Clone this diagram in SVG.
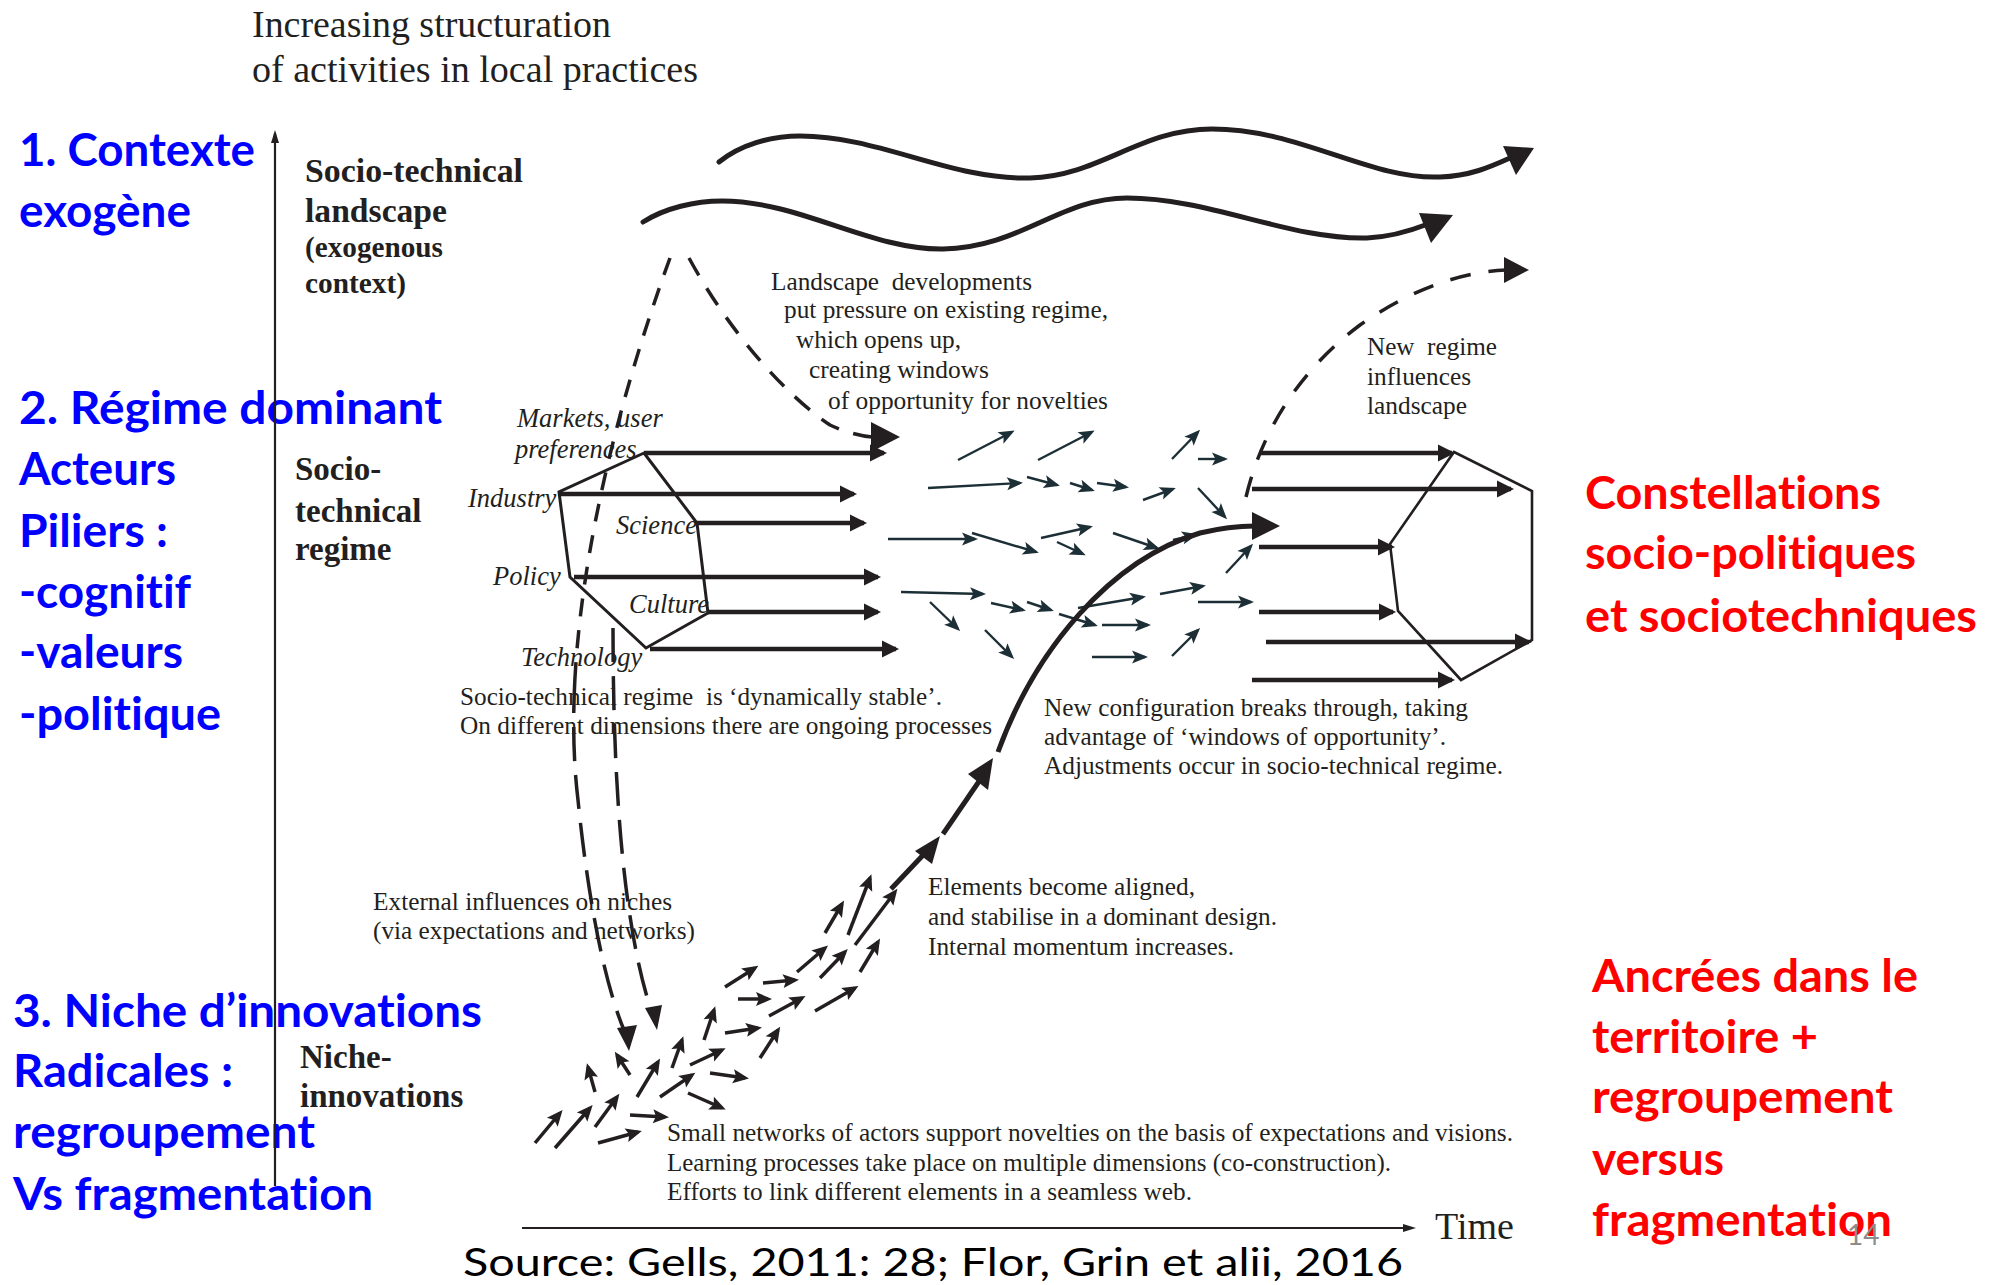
<svg xmlns="http://www.w3.org/2000/svg" width="1995" height="1285" viewBox="0 0 1995 1285">
<defs>
<style>
text{font-variant-ligatures:none}
.serif{font-family:"Liberation Serif","Times New Roman",serif;fill:#231f20}
.b{font-weight:bold}
.i{font-style:italic;font-size:26.5px}
.t25{font-size:25px}
.cal{font-family:Lato,"Open Sans","Liberation Sans",sans-serif}
.blue{fill:#0000ff;font-weight:bold;font-size:45px}
.red{fill:#ff0000;font-weight:bold;font-size:45px}
.hx{fill:none;stroke:#231f20;stroke-width:3;stroke-linejoin:miter}
.ar{stroke:#231f20;stroke-width:4.5;fill:none;marker-end:url(#hb)}
.tl{stroke:#1d2f36;stroke-width:2.4;fill:none;marker-end:url(#ht)}
.nk{stroke:#231f20;stroke-width:3.5;fill:none;marker-end:url(#hn)}
.wave{fill:none;stroke:#231f20;stroke-width:5;stroke-linecap:round}
.thick{fill:none;stroke:#231f20;stroke-width:5}
.dsh{fill:none;stroke:#231f20;stroke-width:3.5}
.head{fill:#231f20}
.axis{stroke:#231f20;stroke-width:2.2;fill:none;marker-end:url(#ha)}
</style>
<marker id="hb" viewBox="-20 -10 24 20" markerWidth="24" markerHeight="20" refX="0" refY="0" orient="auto" markerUnits="userSpaceOnUse" overflow="visible"><path d="M3,0 L-14,-8.5 L-14,8.5 Z" fill="#231f20"/></marker>
<marker id="ht" viewBox="-20 -10 24 20" markerWidth="24" markerHeight="20" refX="0" refY="0" orient="auto" markerUnits="userSpaceOnUse" overflow="visible"><path d="M3,0 L-13,-6.5 L-9.5,0 L-13,6.5 Z" fill="#1d2f36"/></marker>
<marker id="hn" viewBox="-20 -10 24 20" markerWidth="24" markerHeight="20" refX="0" refY="0" orient="auto" markerUnits="userSpaceOnUse" overflow="visible"><path d="M4,0 L-12,-7 L-9,0 L-12,7 Z" fill="#231f20"/></marker>
<marker id="ha" viewBox="-14 -6 18 12" markerWidth="18" markerHeight="12" refX="0" refY="0" orient="auto" markerUnits="userSpaceOnUse" overflow="visible"><path d="M3,0 L-10,-4 L-10,4 Z" fill="#231f20"/></marker>
</defs>
<rect width="1995" height="1285" fill="#ffffff"/>

<!-- Left annotations (blue) -->
<g id="note-contexte" class="cal blue">
<text x="19" y="166" textLength="236" lengthAdjust="spacingAndGlyphs">1. Contexte</text>
<text x="19" y="227" textLength="172" lengthAdjust="spacingAndGlyphs">exogène</text>
</g>
<g id="note-regime" class="cal blue">
<text x="19" y="424" textLength="423" lengthAdjust="spacingAndGlyphs">2. Régime dominant</text>
<text x="19" y="485" textLength="157" lengthAdjust="spacingAndGlyphs">Acteurs</text>
<text x="19" y="547" textLength="149" lengthAdjust="spacingAndGlyphs">Piliers :</text>
<text x="19" y="608" textLength="172" lengthAdjust="spacingAndGlyphs">-cognitif</text>
<text x="19" y="668" textLength="164" lengthAdjust="spacingAndGlyphs">-valeurs</text>
<text x="19" y="730" textLength="202" lengthAdjust="spacingAndGlyphs">-politique</text>
</g>
<g id="note-niche" class="cal blue">
<text x="13" y="1027" textLength="469" lengthAdjust="spacingAndGlyphs">3. Niche d’innovations</text>
<text x="13" y="1087" textLength="220" lengthAdjust="spacingAndGlyphs">Radicales :</text>
<text x="13" y="1148" textLength="302" lengthAdjust="spacingAndGlyphs">regroupement</text>
<text x="13" y="1210" textLength="360" lengthAdjust="spacingAndGlyphs">Vs fragmentation</text>
</g>

<!-- Right annotations (red) -->
<g id="note-constellations" class="cal red">
<text x="1585" y="509" textLength="296" lengthAdjust="spacingAndGlyphs">Constellations</text>
<text x="1585" y="569" textLength="331" lengthAdjust="spacingAndGlyphs">socio-politiques</text>
<text x="1585" y="632" textLength="392" lengthAdjust="spacingAndGlyphs">et sociotechniques</text>
</g>
<g id="note-ancrees" class="cal red">
<text x="1592" y="992" textLength="326" lengthAdjust="spacingAndGlyphs">Ancrées dans le</text>
<text x="1592" y="1053" textLength="226" lengthAdjust="spacingAndGlyphs">territoire +</text>
<text x="1592" y="1113" textLength="301" lengthAdjust="spacingAndGlyphs">regroupement</text>
<text x="1592" y="1175" textLength="132" lengthAdjust="spacingAndGlyphs">versus</text>
<text x="1592" y="1236" textLength="300" lengthAdjust="spacingAndGlyphs">fragmentation</text>
</g>
<text id="page-number" class="cal" x="1847" y="1245" font-size="28" fill="#8c8c8c">14</text>

<g id="source" class="cal">
<text x="463" y="1276" font-size="39" fill="#000000" textLength="940" lengthAdjust="spacingAndGlyphs">Source: Gells, 2011: 28; Flor, Grin et alii, 2016</text>
</g>

<!-- Axes -->
<g id="axes">
<line class="axis" x1="275" y1="1186" x2="275" y2="133"/>
<line class="axis" x1="522" y1="1228" x2="1413" y2="1228"/>
<text class="serif" x="1435" y="1239" font-size="38">Time</text>
<text class="serif" x="252" y="37" font-size="38" textLength="359" lengthAdjust="spacingAndGlyphs">Increasing structuration</text>
<text class="serif" x="252" y="82" font-size="38" textLength="446" lengthAdjust="spacingAndGlyphs">of activities in local practices</text>
</g>

<!-- Level labels -->
<g id="label-landscape" class="serif b">
<text x="305" y="182" font-size="34" textLength="218" lengthAdjust="spacingAndGlyphs">Socio-technical</text>
<text x="305" y="222" font-size="34" textLength="142" lengthAdjust="spacingAndGlyphs">landscape</text>
<text x="305" y="257" font-size="30" textLength="138" lengthAdjust="spacingAndGlyphs">(exogenous</text>
<text x="305" y="293" font-size="30" textLength="101" lengthAdjust="spacingAndGlyphs">context)</text>
</g>
<g id="label-regime" class="serif b" font-size="33">
<text x="295" y="480">Socio-</text>
<text x="295" y="522">technical</text>
<text x="295" y="560">regime</text>
</g>
<g id="label-niche" class="serif b" font-size="33">
<text x="300" y="1068">Niche-</text>
<text x="300" y="1107">innovations</text>
</g>

<!-- Regime hexagon (left) -->
<g id="regime-old">
<polygon class="hx" points="644,453 697,523 708,613 646,648 570,577 559,492"/>
<g class="serif i">
<text x="517" y="427">Markets, user</text>
<text x="515" y="458">preferences</text>
<text x="468" y="507">Industry</text>
<text x="616" y="534">Science</text>
<text x="493" y="585">Policy</text>
<text x="629" y="613">Culture</text>
<text x="521" y="666">Technology</text>
</g>
</g>

<!-- Regime hexagon (right) -->
<g id="regime-new">
<polygon class="hx" style="stroke-width:2.6" points="1454,452 1532,491 1532,640 1461,680 1398,611 1390,544"/>
</g>

<!-- Captions -->
<g id="caption-landscape" class="serif t25">
<text x="771" y="290" textLength="261" lengthAdjust="spacingAndGlyphs" xml:space="preserve">Landscape  developments</text>
<text x="784" y="318" textLength="324" lengthAdjust="spacingAndGlyphs">put pressure on existing regime,</text>
<text x="796" y="348" textLength="165" lengthAdjust="spacingAndGlyphs">which opens up,</text>
<text x="809" y="378" textLength="180" lengthAdjust="spacingAndGlyphs">creating windows</text>
<text x="828" y="409" textLength="280" lengthAdjust="spacingAndGlyphs">of opportunity for novelties</text>
</g>
<g id="caption-newregime" class="serif t25">
<text x="1367" y="355" textLength="130" lengthAdjust="spacingAndGlyphs" xml:space="preserve">New  regime</text>
<text x="1367" y="385" textLength="104" lengthAdjust="spacingAndGlyphs">influences</text>
<text x="1367" y="414" textLength="100" lengthAdjust="spacingAndGlyphs">landscape</text>
</g>
<g id="caption-stable" class="serif t25">
<text x="460" y="705" textLength="482" lengthAdjust="spacingAndGlyphs" xml:space="preserve">Socio-technical regime  is ‘dynamically stable’.</text>
<text x="460" y="734" textLength="532" lengthAdjust="spacingAndGlyphs">On different dimensions there are ongoing processes</text>
</g>
<g id="caption-breakthrough" class="serif t25">
<text x="1044" y="716" textLength="424" lengthAdjust="spacingAndGlyphs">New configuration breaks through, taking</text>
<text x="1044" y="745" textLength="402" lengthAdjust="spacingAndGlyphs">advantage of ‘windows of opportunity’.</text>
<text x="1044" y="774" textLength="459" lengthAdjust="spacingAndGlyphs">Adjustments occur in socio-technical regime.</text>
</g>
<g id="caption-aligned" class="serif t25">
<text x="928" y="895" textLength="267" lengthAdjust="spacingAndGlyphs">Elements become aligned,</text>
<text x="928" y="925" textLength="349" lengthAdjust="spacingAndGlyphs">and stabilise in a dominant design.</text>
<text x="928" y="955" textLength="306" lengthAdjust="spacingAndGlyphs">Internal momentum increases.</text>
</g>
<g id="caption-external" class="serif t25">
<text x="373" y="910" textLength="299" lengthAdjust="spacingAndGlyphs">External influences on niches</text>
<text x="373" y="939" textLength="322" lengthAdjust="spacingAndGlyphs">(via expectations and networks)</text>
</g>
<g id="caption-niche" class="serif t25">
<text x="667" y="1141" textLength="846" lengthAdjust="spacingAndGlyphs">Small networks of actors support novelties on the basis of expectations and visions.</text>
<text x="667" y="1171" textLength="724" lengthAdjust="spacingAndGlyphs">Learning processes take place on multiple dimensions (co-construction).</text>
<text x="667" y="1200" textLength="525" lengthAdjust="spacingAndGlyphs">Efforts to link different elements in a seamless web.</text>
</g>

<!-- Connectors -->
<g id="connectors">
<!-- landscape waves -->
<path class="wave" d="M719,162 C740,145 770,136 800,136 C880,136 950,180 1030,178 C1100,176 1140,129 1212,129 C1300,129 1370,180 1440,177 C1470,176 1490,167 1510,158"/>
<polygon class="head" points="1503,146 1534,148 1516,175"/>
<path class="wave" d="M643,222 C665,208 695,201 722,201 C800,201 870,250 943,249 C1020,248 1060,198 1127,198 C1210,198 1290,240 1367,238 C1390,237 1410,231 1428,224"/>
<polygon class="head" points="1419,213 1453,215 1431,243"/>

<!-- dashed: landscape to regime -->
<path class="dsh" stroke-dasharray="20 15" d="M689,258 C728,330 785,395 830,425 C845,432 860,436 872,437"/>
<polygon class="head" points="871,422 900,437 871,452"/>
<!-- dashed: landscape to niches -->
<path class="dsh" stroke-dasharray="18 14" d="M670,258 C617.5,402 581.9,550.5 574.9,679"/>
<path class="dsh" stroke-dasharray="34 14" d="M574.9,679 C572.6,721.9 573.5,762.5 578,800 C588,900 605,985 624,1030"/>
<polygon class="head" points="617,1028 637,1025 629,1051"/>
<path class="dsh" stroke-dasharray="34 14" d="M613,628 C613,800 625,930 651,1010"/>
<polygon class="head" points="645,1008 662,1005 657,1030"/>
<!-- dashed: new regime to landscape -->
<path class="dsh" stroke-dasharray="21 18" d="M1246,497 C1262,430 1300,370 1360,325 C1410,290 1460,272 1506,270"/>
<polygon class="head" points="1504,257 1529,270 1504,283"/>

<!-- old regime arrows -->
<line class="ar" x1="644" y1="453" x2="884" y2="453"/>
<line class="ar" x1="559" y1="494" x2="854" y2="494"/>
<line class="ar" x1="697" y1="523" x2="864" y2="523"/>
<line class="ar" x1="574" y1="577" x2="878" y2="577"/>
<line class="ar" x1="708" y1="612" x2="878" y2="612"/>
<line class="ar" x1="650" y1="649" x2="896" y2="649"/>

<!-- new regime arrows -->
<line class="ar" x1="1259" y1="453" x2="1452" y2="453"/>
<line class="ar" x1="1252" y1="489" x2="1511" y2="489"/>
<line class="ar" x1="1259" y1="547" x2="1392" y2="547"/>
<line class="ar" x1="1259" y1="612" x2="1393" y2="612"/>
<line class="ar" x1="1266" y1="642" x2="1529" y2="642"/>
<line class="ar" x1="1252" y1="680" x2="1452" y2="680"/>

<!-- ongoing processes (teal) -->
<line class="tl" x1="958" y1="460" x2="1012" y2="432"/>
<line class="tl" x1="1038" y1="460" x2="1092" y2="432"/>
<line class="tl" x1="1172" y1="459" x2="1198" y2="432"/>
<line class="tl" x1="1198" y1="459" x2="1225" y2="459"/>
<line class="tl" x1="928" y1="488" x2="1020" y2="483"/>
<line class="tl" x1="1027" y1="477" x2="1057" y2="485"/>
<line class="tl" x1="1070" y1="483" x2="1092" y2="490"/>
<line class="tl" x1="1097" y1="483" x2="1126" y2="487"/>
<line class="tl" x1="1143" y1="500" x2="1173" y2="489"/>
<line class="tl" x1="1198" y1="488" x2="1225" y2="517"/>
<line class="tl" x1="888" y1="539" x2="975" y2="539"/>
<line class="tl" x1="972" y1="533" x2="1036" y2="552"/>
<line class="tl" x1="1041" y1="538" x2="1090" y2="527"/>
<line class="tl" x1="1057" y1="542" x2="1083" y2="554"/>
<line class="tl" x1="1113" y1="533" x2="1157" y2="548"/>
<line class="tl" x1="1173" y1="540" x2="1195" y2="535"/>
<line class="tl" x1="1226" y1="573" x2="1251" y2="546"/>
<line class="tl" x1="901" y1="592" x2="983" y2="594"/>
<line class="tl" x1="930" y1="602" x2="958" y2="629"/>
<line class="tl" x1="991" y1="603" x2="1023" y2="610"/>
<line class="tl" x1="1027" y1="602" x2="1051" y2="610"/>
<line class="tl" x1="1059" y1="614" x2="1095" y2="625"/>
<line class="tl" x1="1078" y1="608" x2="1143" y2="597"/>
<line class="tl" x1="1160" y1="594" x2="1203" y2="586"/>
<line class="tl" x1="1198" y1="602" x2="1251" y2="602"/>
<line class="tl" x1="1102" y1="625" x2="1148" y2="625"/>
<line class="tl" x1="985" y1="630" x2="1012" y2="657"/>
<line class="tl" x1="1092" y1="657" x2="1145" y2="657"/>
<line class="tl" x1="1172" y1="656" x2="1198" y2="630"/>

<!-- niche arrows -->
<line class="nk" x1="848" y1="935" x2="870" y2="878"/>
<line class="nk" x1="855" y1="945" x2="895" y2="892"/>
<line class="nk" x1="825" y1="933" x2="842" y2="904"/>
<line class="nk" x1="820" y1="978" x2="845" y2="952"/>
<line class="nk" x1="860" y1="972" x2="878" y2="942"/>
<line class="nk" x1="797" y1="972" x2="825" y2="948"/>
<line class="nk" x1="725" y1="987" x2="755" y2="968"/>
<line class="nk" x1="763" y1="983" x2="795" y2="980"/>
<line class="nk" x1="738" y1="999" x2="768" y2="999"/>
<line class="nk" x1="769" y1="1016" x2="802" y2="998"/>
<line class="nk" x1="815" y1="1011" x2="855" y2="988"/>
<line class="nk" x1="725" y1="1033" x2="758" y2="1028"/>
<line class="nk" x1="704" y1="1040" x2="714" y2="1010"/>
<line class="nk" x1="760" y1="1058" x2="778" y2="1030"/>
<line class="nk" x1="690" y1="1065" x2="722" y2="1050"/>
<line class="nk" x1="710" y1="1073" x2="745" y2="1078"/>
<line class="nk" x1="672" y1="1068" x2="682" y2="1040"/>
<line class="nk" x1="660" y1="1097" x2="692" y2="1075"/>
<line class="nk" x1="637" y1="1097" x2="658" y2="1062"/>
<line class="nk" x1="688" y1="1093" x2="722" y2="1108"/>
<line class="nk" x1="630" y1="1075" x2="617" y2="1055"/>
<line class="nk" x1="595" y1="1092" x2="588" y2="1067"/>
<line class="nk" x1="630" y1="1115" x2="665" y2="1117"/>
<line class="nk" x1="595" y1="1127" x2="617" y2="1097"/>
<line class="nk" x1="555" y1="1148" x2="590" y2="1108"/>
<line class="nk" x1="535" y1="1143" x2="560" y2="1113"/>
<line class="nk" x1="598" y1="1143" x2="638" y2="1132"/>

<!-- breakthrough trajectory -->
<line class="thick" x1="891" y1="889" x2="926" y2="852"/>
<polygon class="head" points="915,851 940,836 932,864"/>
<line class="thick" x1="943" y1="834" x2="982" y2="777"/>
<polygon class="head" points="968,774 993,758 988,790"/>
<path class="thick" d="M998,752 C1035,650 1110,560 1200,533 C1225,527 1240,526 1255,526"/>
<polygon class="head" points="1252,512 1280,526 1252,540"/>
</g>
</svg>
